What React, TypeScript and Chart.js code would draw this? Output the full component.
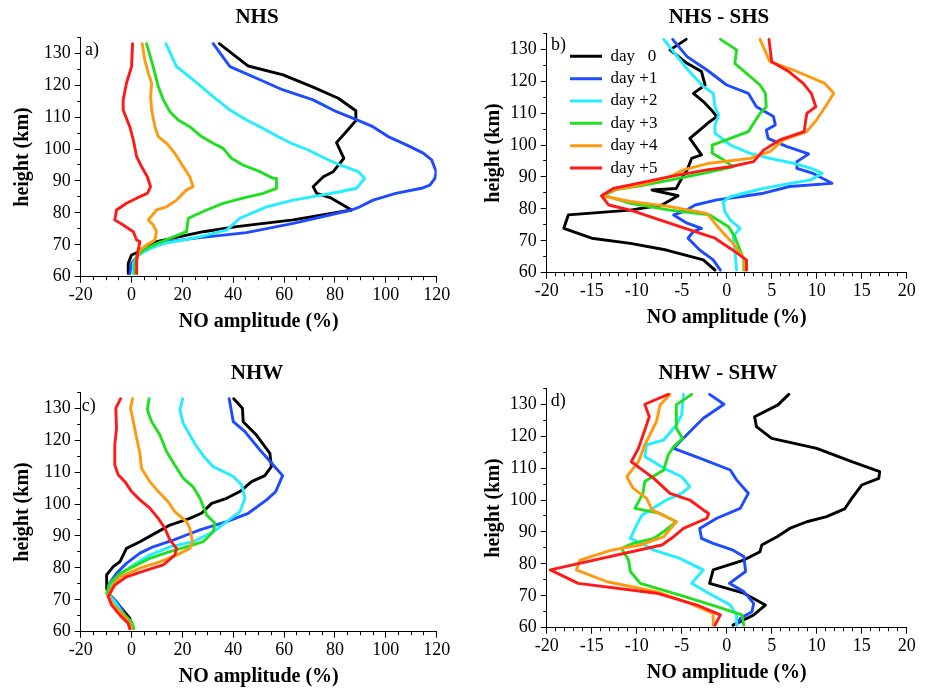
import React, { useEffect, useRef } from 'react';
import { Chart, registerables } from 'chart.js';

Chart.register(...registerables);
Chart.defaults.font.family = "'Liberation Serif', 'Times New Roman', serif";
Chart.defaults.color = '#000';

type Pts = [number, number][]; // [NO amplitude (%), height (km)]

// ---------- labels / colours ----------
const dayLabels = ['day   0', 'day +1', 'day +2', 'day +3', 'day +4', 'day +5'];
const dayColors = ['#000000', '#1f4bff', '#22eeff', '#1fe01f', '#ff9a10', '#ff1a1a'];

// ---------- axis ticks ----------
const xTicksAbs = { min: -20, max: 120, step: 20, minor: 5 };
const xTicksDiff = { min: -20, max: 20, step: 5, minor: 1 };
const yTicks = { min: 60, max: 135, step: 10, minor: 5 };

// ---------- a) NHS ----------
const nhsDay0: Pts = [[34.5,133],[45.9,126],[59.6,123.2],[71.4,119.4],[81.3,115.9],[88.2,112],[88.2,108.9],[84.5,105.5],[80.6,102],[83.5,97.1],[79.3,92.9],[75.4,91.3],[71.4,88.2],[72.8,86.1],[78.6,84.6],[86.5,80.9],[63.6,77.8],[41.3,75.7],[28.2,74.1],[9.8,71],[4.6,68.4],[0,66.8],[-1.3,64.2],[-1.3,61]];
const nhsDay1: Pts = [[32.1,133],[38.7,125.8],[50.5,121.7],[59.6,118.5],[71.4,115.4],[80.6,111.7],[87.2,109.6],[94.9,107],[100.9,103.9],[108.1,101.3],[114.7,98.7],[118,96.6],[119.8,92.9],[119.3,90.8],[117.3,88.7],[114,87.7],[103.9,86.1],[95,84],[89.8,81.9],[86.5,80.9],[63.6,76.7],[45.2,73.8],[24.2,72],[15,71],[8.5,69.4],[3.3,67.3],[0,64.2],[-0.7,61]];
const nhsDay2: Pts = [[13.5,133],[17.7,125.8],[24.2,121.7],[32.1,116.4],[38.7,112.2],[45.2,109.1],[50.5,107],[57.5,103.9],[62.8,101.8],[69.5,99.7],[76,97.1],[81.9,95],[89.2,92.9],[91.7,90.8],[88.5,87.7],[81.9,86.6],[71.4,85.1],[63.6,84],[53.1,81.9],[42.6,78.3],[37.4,74.6],[34.7,74.1],[26.9,72.5],[20.3,71.5],[12.5,70.4],[5.9,68.4],[2,66.3],[0.7,64.2],[0.7,61]];
const nhsDay3: Pts = [[5.9,133],[8.5,125.8],[10.5,119.6],[12.5,115.4],[15.1,111.7],[18.3,109.1],[22.9,107],[27.5,103.9],[32.1,101.8],[36,100.2],[39.3,97.1],[43.8,95],[50.5,92.9],[55.7,90.8],[57,90.8],[57,87.7],[51.7,86.1],[43.8,84.6],[36,83],[29.5,80.9],[22.3,78.3],[21.6,74.1],[15.1,72],[8.5,69.9],[4.6,68.4],[2,66.3],[1.3,64.2],[1.3,61]];
const nhsDay4: Pts = [[4.2,133],[5.2,127.9],[6.6,123.7],[7.9,120.6],[7.5,116.4],[7.9,112.2],[9.2,107],[10.5,103.9],[13.8,101.8],[17,98.7],[20.3,94.5],[22.9,91.3],[24.2,88.2],[21.6,87.2],[17.7,84],[13.8,81.9],[9.8,80.9],[6.6,77.8],[8.5,76.2],[9.8,74.1],[9.2,71.5],[5.9,69.9],[3.3,68.4],[2,65.2],[2,61]];
const nhsDay5: Pts = [[0.4,133],[0,125.8],[-2,120.6],[-3.3,115.4],[-3.3,112.2],[-2,109.6],[-0.7,107],[0.7,102.8],[2,97.6],[3.9,94.5],[6.2,91.3],[7.5,88.2],[6.2,86.1],[2,84.6],[-2,83],[-5.9,80.9],[-6.6,77.8],[-3.3,76.2],[0.7,74.1],[2,71.5],[3.3,71],[2.6,68.4],[2,65.2],[2,61]];

// ---------- b) NHS - SHS ----------
const nhsDiffDay0: Pts = [[-4.5,133.1],[-6.3,129.8],[-4.4,125.6],[-2.8,123],[-2.4,118.8],[-3.7,116.2],[-2.6,113.6],[-1.7,111],[-1.1,108.9],[-1.9,107.3],[-3,104.7],[-4.1,102.1],[-2.8,96.9],[-3.9,95.8],[-4.4,92.2],[-5,89.6],[-5.6,86.4],[-8.3,85.9],[-5.4,84.1],[-7.2,81.2],[-10.7,79.6],[-17.6,78.1],[-18.1,73.9],[-15,70.8],[-10.7,69.2],[-6.7,67.1],[-2.6,64],[-1.3,60.8]];
const nhsDiffDay1: Pts = [[-6,133.1],[-4.4,127.7],[-2.2,123.5],[0,118.8],[2.4,116.2],[3.3,112],[5.2,108.9],[5.4,106.3],[4.4,104.7],[4.6,102.1],[6.7,99.5],[9.1,97.2],[7.8,94.8],[7.8,92.7],[9.6,91.1],[11.7,88],[7,87],[4.1,84.9],[1.5,83.8],[-1.1,82.8],[-3.5,81.2],[-4.8,79.1],[-5.9,78.1],[-4.4,75.5],[-2.8,73.9],[-3.7,72.9],[-4.3,70.8],[-3,67.1],[-1.5,64],[-0.7,60.8]];
const nhsDiffDay2: Pts = [[-7,133.1],[-4.3,123.5],[-2.6,118.3],[-1.5,116.2],[-1.3,112],[-0.9,109.4],[-1.3,106.3],[-1.3,103.7],[0.4,100],[2.6,97.4],[4.8,95.8],[7.4,94.3],[9.4,92.7],[10.6,91.1],[9.3,89],[7,88],[4.1,86.4],[1.9,84.9],[0.4,83.8],[-0.4,82.3],[-0.2,79.1],[0.4,76.5],[1.5,73.9],[0.7,71.3],[0.9,67.1],[1.1,60.8]];
const nhsDiffDay3: Pts = [[-0.7,133.1],[1.1,129.8],[0.9,125.6],[2.4,122],[3.7,118.8],[4.3,116.2],[4.4,112],[3.7,109.9],[3.1,107.3],[2.4,104.2],[0.4,102.1],[-1.6,100],[-1.6,97.4],[-0.6,95.8],[0.7,93.2],[-2.6,91.1],[-6.3,89],[-9.6,87.2],[-12.2,86.1],[-13.7,84.3],[-10.7,81.7],[-6.3,79.6],[-1.9,78.1],[0.2,74.4],[0.9,71.3],[1.9,64],[1.9,60.8]];
const nhsDiffDay4: Pts = [[3.7,133.1],[4.8,126.1],[7.4,123.5],[10.9,119.3],[11.9,116.2],[11.1,112.6],[10,107.9],[8.9,104.2],[6.3,101.6],[4.8,97.9],[2.6,95.8],[-1.9,94.3],[-4.8,92.2],[-6.3,90.1],[-9.6,87.5],[-12.6,85.9],[-13.9,84.1],[-10.7,82.3],[-6.3,80.7],[-2.2,78.6],[-0.7,73.4],[0.7,69.2],[2,64],[2,60.8]];
const nhsDiffDay5: Pts = [[4.7,133.1],[5,126.1],[6.9,123],[8.5,119.3],[9.4,116.2],[9.9,112],[8.9,109.9],[8.6,104.2],[5.9,101.6],[4.1,98.4],[3,94.8],[0.4,93.2],[-2.2,92.2],[-6.3,90.1],[-10.7,87.5],[-12.6,86.4],[-13.9,84.1],[-13.1,81.2],[-10.7,79.6],[-5.2,74.4],[-1.3,70.8],[0.4,67.6],[2.2,64],[2.2,60.8]];

// ---------- c) NHW ----------
const nhwDay0: Pts = [[40.2,133],[43.6,130],[43.9,125.8],[49.1,121.6],[54.4,115.9],[55,111.7],[52.4,108.9],[47.2,107],[42.6,103.9],[37.4,101.8],[31.5,100.2],[27.5,97.1],[22.9,95.5],[15.1,93.4],[9.2,90.8],[3.3,88.2],[-2,86.1],[-4.6,81.9],[-7.2,80.4],[-9.8,77.8],[-9.8,73.6],[-9.2,72],[-7.2,70.4],[-3.9,67.3],[-0.7,64.2],[0,61]];
const nhwDay1: Pts = [[38.4,133],[40,125.8],[44.6,122.7],[50.5,116.9],[55.7,112.2],[59.4,108.9],[56.7,103.9],[53.1,101.3],[45.9,97.1],[37.4,94.5],[26.9,91.9],[21.6,90.3],[16.4,88.7],[8.5,86.6],[3.3,84.6],[-2,81.4],[-5.9,78.3],[-9.2,74.6],[-9.2,71.5],[-5.9,69.4],[-3.3,66.3],[-1.3,63.1],[-0.7,61]];
const nhwDay2: Pts = [[20.1,133],[19,129.5],[20.3,125.3],[25.2,118.5],[28.4,114.9],[32.1,111.7],[40,108.6],[43.3,106],[44.6,101.8],[42.6,97.6],[37.4,94.5],[32.1,91.3],[24.2,88.2],[15.1,86.6],[7.2,84],[0.7,80.9],[-4.6,77.8],[-8.5,74.6],[-9.2,72],[-6.6,69.4],[-3.9,66.3],[-1.3,63.1],[0,61]];
const nhwDay3: Pts = [[6.9,133],[6.2,129.5],[7.9,125.8],[11.1,121.7],[13.8,116.4],[17,112.2],[20.3,108.1],[24.2,105.4],[26.9,101.8],[28.2,99.2],[29.5,96.6],[32.8,94],[32.1,91.3],[28.2,88.2],[24.2,87.2],[15.1,85.1],[7.2,83],[0.7,80.4],[-4.6,78.3],[-8.5,75.2],[-9.8,72],[-7.2,68.4],[-3.3,65.7],[0,63.1],[0.9,61]];
const nhwDay4: Pts = [[0.4,133],[-0.4,130],[0.7,125.8],[2,120.6],[3.3,115.9],[3.9,111.2],[7.2,107],[10.5,103.9],[14.4,100.7],[17,97.6],[21.6,94.5],[22.9,92.4],[24,88.2],[22.9,86.1],[17.7,84],[11.1,81.9],[3.3,79.9],[-4.6,77.2],[-7.2,74.6],[-9.2,71.5],[-7.2,68.4],[-3.3,65.2],[-0.7,62.6],[0,61]];
const nhwDay5: Pts = [[-4.3,133],[-6.2,130],[-5.9,123.7],[-6.6,118.5],[-6.6,112.2],[-5.2,109.1],[-2.6,107],[0,103.9],[3.3,101.3],[7.2,98.7],[10.5,95.5],[13.1,92.4],[15.1,88.7],[17.7,86.1],[17,84],[12.5,80.9],[5.9,79.3],[-2,77.2],[-6.6,74.6],[-9.2,71],[-7.9,68.4],[-4.6,65.2],[-1.3,62.6],[-0.7,61]];

// ---------- d) NHW - SHW ----------
const nhwDiffDay0: Pts = [[6.9,133.1],[5.7,129.8],[3.1,126.1],[3.3,123],[5,119.3],[10,116.2],[13.9,112],[17,108.9],[16.9,106.8],[15,104.7],[13.9,100.5],[13.1,97.2],[11.1,94.8],[8.9,93.2],[7,91.1],[5.6,88.5],[3.9,85.9],[3.7,83.8],[1.9,81.2],[-1.5,78.1],[-1.9,73.9],[1.9,70.8],[4.3,67.1],[3,64],[0.7,60.8]];
const nhwDiffDay1: Pts = [[-1.9,133.1],[-0.3,130],[-2.6,125.6],[-4.1,121.4],[-5.9,116.2],[-3,113.1],[0.4,109.4],[1.1,106.3],[2.4,102.1],[1.5,97.4],[-1.1,94.3],[-3,91.1],[-2.8,88],[-1.5,86.4],[0.7,84.3],[1.9,82.3],[2.1,77.6],[0.3,73.9],[1.9,71.3],[3,67.6],[2.8,65],[1.5,62.9],[1.1,60.8]];
const nhwDiffDay2: Pts = [[-4.8,133.1],[-5,126.7],[-5.6,123.5],[-7,118.8],[-8.9,117.3],[-9.1,113.6],[-7,110],[-5,107.3],[-4.1,104.2],[-5,102.1],[-6.7,100],[-8.5,96.9],[-9.4,95.3],[-10,92.2],[-10.7,88],[-9.1,85.9],[-8.1,84.3],[-5.2,81.7],[-3.7,79.6],[-2.6,78.1],[-3.9,73.9],[-2,70.8],[0.4,67.1],[1.1,64],[1.1,60.8]];
const nhwDiffDay3: Pts = [[-3.9,133.1],[-5.6,129.8],[-5.6,122.5],[-4.9,119.3],[-5.9,116.7],[-6.5,114.1],[-7,109.4],[-9.1,105.8],[-9.3,102.1],[-10.2,97.4],[-7.4,95.8],[-5.6,93.2],[-7,90.1],[-8.1,88],[-10.4,86.4],[-11.7,84.9],[-10.9,81.2],[-10.7,77.6],[-9.6,73.9],[-5.2,70.2],[-1.1,66.6],[1.7,64],[1.9,60.8]];
const nhwDiffDay4: Pts = [[-6.3,133.1],[-7.4,129.8],[-7.8,124.6],[-9.1,117.3],[-9.8,112],[-11.1,107.3],[-10.4,103.7],[-8.9,100.5],[-8.3,96.9],[-5.6,93.2],[-7,88.5],[-9.6,85.9],[-12.8,84.3],[-16.3,81.2],[-16.7,78.1],[-13.3,74.4],[-7.8,71.3],[-4.1,67.6],[-1.5,64.5],[-1.5,60.8]];
const nhwDiffDay5: Pts = [[-6.5,133.1],[-9.1,130],[-8.6,126.1],[-9.8,116.2],[-10.6,112],[-8.1,106.8],[-6.3,102.1],[-4.1,100],[-2.6,96.9],[-2,95.8],[-2.2,94.3],[-4.8,91.1],[-5.9,88.5],[-7.2,85.9],[-19.6,78.1],[-16.5,73.9],[-7.8,70.8],[-3.3,67.1],[-0.7,64],[-1.3,60.8]];

// ---------- panel layout ----------
type PanelCfg = {
  title: string; label: string; series: Pts[]; xr: typeof xTicksAbs;
  left: number; top: number; w: number; h: number;
  area: { left: number; right: number; top: number; bottom: number };
  titleX: number; titleY: number; xTitleY: number; yTitleX: number;
  labelOff: [number, number]; legend?: { left: number; top: number };
};

const panels: PanelCfg[] = [
  { title: 'NHS', label: 'a)', series: [nhsDay0, nhsDay1, nhsDay2, nhsDay3, nhsDay4, nhsDay5], xr: xTicksAbs,
    left: 0, top: 0, w: 462, h: 345, area: { left: 80.7, right: 436.7, top: 37.3, bottom: 276.7 },
    titleX: 257, titleY: 18, xTitleY: 322, yTitleX: 22.5, labelOff: [4.3, 12.7] },
  { title: 'NHS - SHS', label: 'b)', series: [nhsDiffDay0, nhsDiffDay1, nhsDiffDay2, nhsDiffDay3, nhsDiffDay4, nhsDiffDay5], xr: xTicksDiff,
    left: 462, top: 0, w: 463, h: 345, area: { left: 84.7, right: 444.7, top: 33.3, bottom: 272.7 },
    titleX: 257, titleY: 18, xTitleY: 317.7, yTitleX: 32, labelOff: [4.3, 11.7], legend: { left: 102.65, top: 42.45 } },
  { title: 'NHW', label: 'c)', series: [nhwDay0, nhwDay1, nhwDay2, nhwDay3, nhwDay4, nhwDay5], xr: xTicksAbs,
    left: 0, top: 345, w: 462, h: 346, area: { left: 80.7, right: 436.7, top: 47.3, bottom: 286.7 },
    titleX: 257, titleY: 29, xTitleY: 331.7, yTitleX: 22.5, labelOff: [1, 14.2] },
  { title: 'NHW - SHW', label: 'd)', series: [nhwDiffDay0, nhwDiffDay1, nhwDiffDay2, nhwDiffDay3, nhwDiffDay4, nhwDiffDay5], xr: xTicksDiff,
    left: 462, top: 345, w: 463, h: 346, area: { left: 84.7, right: 444.7, top: 43.3, bottom: 282.7 },
    titleX: 256, titleY: 29, xTitleY: 327.7, yTitleX: 32, labelOff: [4, 13.2] },
];

const TITLE_SIZE = 21;
const AXIS_TITLE_SIZE = 20;
const TICK_SIZE = 18;

const decorPlugin = {
  id: 'panelDecor',
  afterLayout(chart: any, _a: any, opts: any) {
    const t = chart.titleBlock;
    if (t && opts.titleCx != null) {
      const w = t.right - t.left;
      t.left = opts.titleCx - w / 2;
      t.right = t.left + w;
    }
    const lg = chart.legend;
    if (lg && opts.legendPos) {
      lg.left = opts.legendPos.left; lg.right = lg.left + 170; lg.width = 170;
      lg.top = opts.legendPos.top; lg.bottom = lg.top + 170; lg.height = 170;
    }
  },
  afterDraw(chart: any, _a: any, opts: any) {
    const { ctx, chartArea } = chart;
    const xs = chart.scales.x, ys = chart.scales.y;
    ctx.save();
    ctx.strokeStyle = '#000';
    ctx.lineWidth = 1;
    ctx.beginPath();
    const len = 3.5;
    for (let v = xs.min; v <= xs.max + 1e-9; v += opts.xMinor) {
      const p = Math.round(xs.getPixelForValue(v) - 0.5) + 0.5;
      ctx.moveTo(p, xs.top); ctx.lineTo(p, xs.top + len);
    }
    for (let v = ys.min; v <= ys.max + 1e-9; v += opts.yMinor) {
      const p = Math.round(ys.getPixelForValue(v) - 0.5) + 0.5;
      ctx.moveTo(ys.right, p); ctx.lineTo(ys.right - len, p);
    }
    ctx.stroke();
    ctx.fillStyle = '#000';
    ctx.font = "18px 'Liberation Serif', 'Times New Roman', serif";
    ctx.textBaseline = 'middle';
    ctx.textAlign = 'left';
    ctx.fillText(opts.label, chartArea.left + opts.labelOff[0], chartArea.top + opts.labelOff[1]);
    ctx.restore();
  },
};

function Panel({ cfg }: { cfg: PanelCfg }) {
  const ref = useRef<HTMLCanvasElement>(null);
  useEffect(() => {
    const c = cfg;
    const tHalf = (TITLE_SIZE * 1.2) / 2;
    const aHalf = (AXIS_TITLE_SIZE * 1.2) / 2;
    const chart = new Chart(ref.current as HTMLCanvasElement, {
      type: 'line',
      data: {
        datasets: c.series.map((s, i) => ({
          label: dayLabels[i],
          data: s.map(([x, y]) => ({ x, y })),
          borderColor: dayColors[i],
          backgroundColor: dayColors[i],
          borderWidth: 2.9,
          pointRadius: 0,
          pointHoverRadius: 0,
          tension: 0,
          fill: false,
          order: 5 - i,
          borderJoinStyle: 'round',
          borderCapStyle: 'round',
        })),
      },
      options: {
        responsive: false,
        animation: false,
        events: [],
        layout: { padding: { left: 0, top: 0, right: c.w - c.area.right, bottom: 0 } },
        scales: {
          x: {
            type: 'linear', min: c.xr.min, max: c.xr.max,
            ticks: { stepSize: c.xr.step, font: { size: TICK_SIZE }, color: '#000', padding: 2, maxRotation: 0, autoSkip: false, includeBounds: false },
            grid: { drawOnChartArea: false, drawTicks: true, tickLength: 6, tickColor: '#000', tickWidth: 1, color: '#000' },
            border: { display: true, color: '#000', width: 1 },
            title: { display: true, text: 'NO amplitude (%)', color: '#000', font: { size: AXIS_TITLE_SIZE, weight: 'bold', lineHeight: 1.2 }, padding: { top: 0, bottom: c.h - c.xTitleY - aHalf } },
            afterFit: (s: any) => { s.height = c.h - c.area.bottom; s.paddingLeft = 0; s.paddingRight = 0; },
          },
          y: {
            type: 'linear', position: 'left', min: yTicks.min, max: yTicks.max,
            ticks: { stepSize: yTicks.step, font: { size: TICK_SIZE }, color: '#000', padding: 4, autoSkip: false, includeBounds: false },
            grid: { drawOnChartArea: false, drawTicks: true, tickLength: 6, tickColor: '#000', tickWidth: 1, color: '#000' },
            border: { display: true, color: '#000', width: 1 },
            title: { display: true, text: 'height (km)', color: '#000', font: { size: AXIS_TITLE_SIZE, weight: 'bold', lineHeight: 1.2 }, padding: { top: c.yTitleX - aHalf, bottom: 0 } },
            afterFit: (s: any) => { s.width = c.area.left; s.paddingTop = 0; s.paddingBottom = 0; },
          },
        },
        plugins: {
          title: {
            display: true, text: c.title, fullSize: false, color: '#000',
            font: { size: TITLE_SIZE, weight: 'bold', lineHeight: 1.2 },
            padding: { top: c.titleY - tHalf, bottom: c.area.top - c.titleY - tHalf },
          },
          legend: c.legend ? {
            display: true, position: 'chartArea', align: 'start',
            labels: {
              color: '#000', font: { size: 17 }, boxWidth: 32, boxHeight: 3, padding: 5.35,
              sort: (a: any, b: any) => a.datasetIndex - b.datasetIndex,
              generateLabels: (ch: any) => Chart.defaults.plugins.legend.labels.generateLabels(ch).map((l: any) => ({ ...l, fillStyle: l.strokeStyle, lineWidth: 0 })),
            },
          } : { display: false },
          tooltip: { enabled: false },
          panelDecor: { titleCx: c.titleX, legendPos: c.legend, label: c.label, labelOff: c.labelOff, xMinor: c.xr.minor, yMinor: yTicks.minor },
        } as any,
      } as any,
      plugins: [decorPlugin],
    });
    return () => chart.destroy();
  }, [cfg]);
  return (
    <canvas
      ref={ref}
      width={cfg.w}
      height={cfg.h}
      style={{ position: 'absolute', left: cfg.left, top: cfg.top, width: cfg.w, height: cfg.h }}
    />
  );
}

export default function App() {
  return (
    <div style={{ position: 'absolute', left: 0, top: 0, width: 925, height: 691, background: '#fff' }}>
      {panels.map((p) => <Panel key={p.label} cfg={p} />)}
    </div>
  );
}
